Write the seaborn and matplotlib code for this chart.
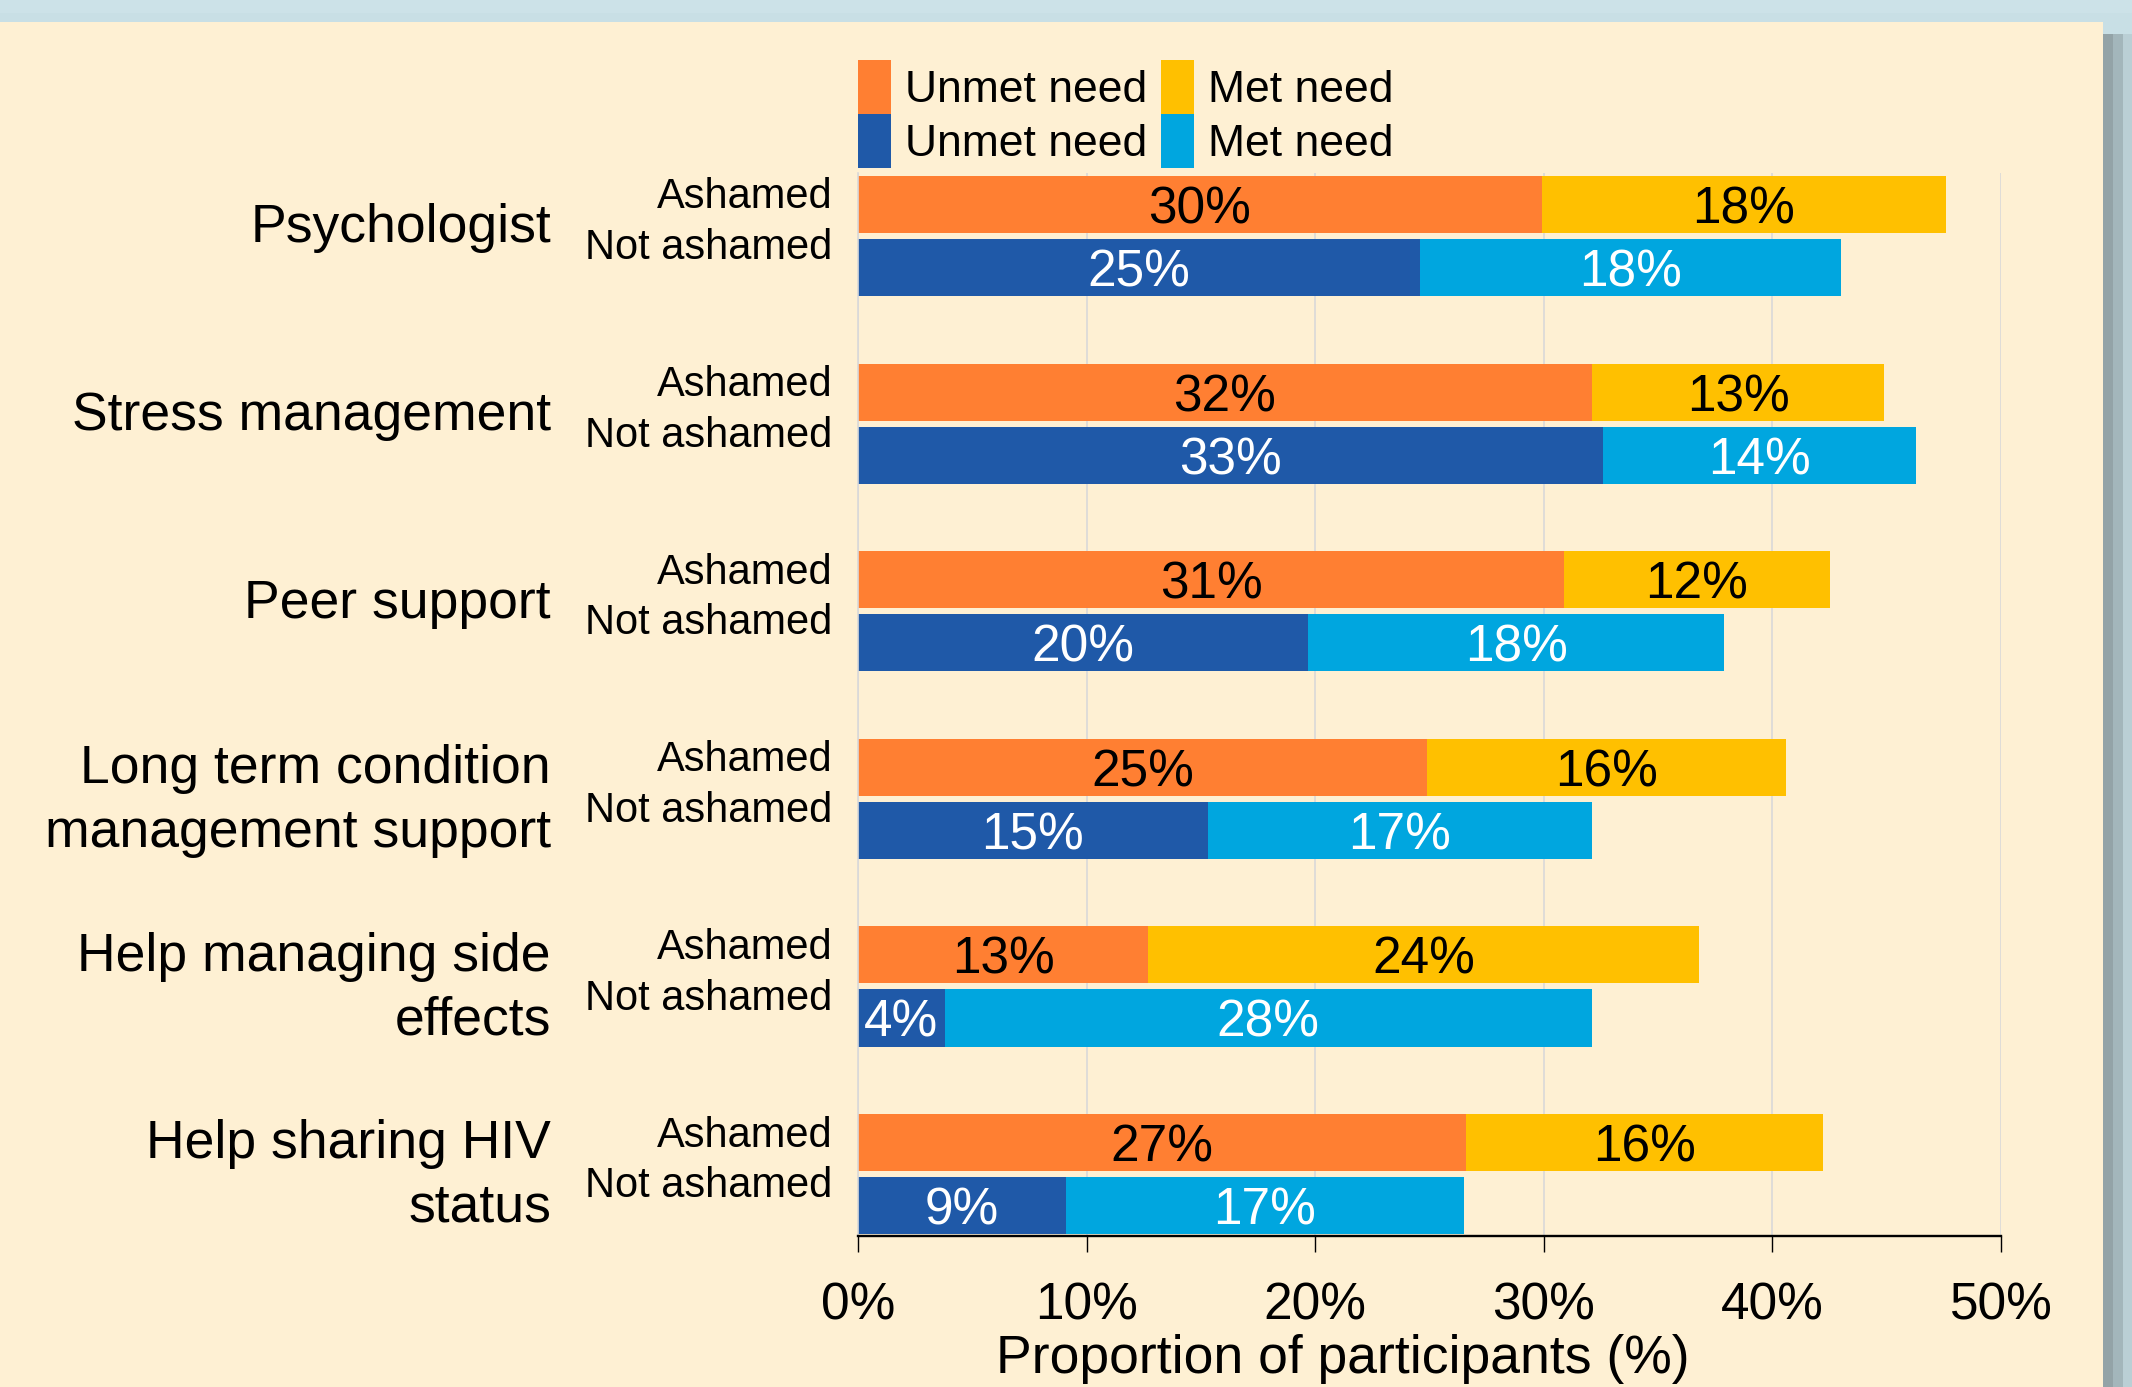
import matplotlib
matplotlib.use("Agg")
import matplotlib.pyplot as plt
import matplotlib.patches as mpatches
import matplotlib.transforms as mtransforms
import pandas as pd
import seaborn as sns

# Chart data (percent of participants)
services = [
    "Psychologist",
    "Stress management",
    "Peer support",
    "Long term condition\nmanagement support",
    "Help managing side\neffects",
    "Help sharing HIV\nstatus",
]
groups = ["Ashamed", "Not ashamed"]

unmet_ashamed = [29.9, 32.1, 30.9, 24.9, 12.7, 26.6]
met_ashamed = [17.7, 12.8, 11.6, 15.7, 24.1, 15.6]
unmet_not_ashamed = [24.6, 32.6, 19.7, 15.3, 3.8, 9.1]
met_not_ashamed = [18.4, 13.7, 18.2, 16.8, 28.3, 17.4]

x_ticks = [0, 10, 20, 30, 40, 50]
x_title = "Proportion of participants (%)"
legend_labels = ["Unmet need", "Met need"]

# Colours
CREAM = "#FEF0D3"
FRAME = "#C8DFE5"
pal_unmet = {"Ashamed": "#FF7F32", "Not ashamed": "#1F59A8"}
pal_met = {"Ashamed": "#FFC000", "Not ashamed": "#00A6DF"}
label_color = {"Ashamed": "black", "Not ashamed": "white"}

df = pd.DataFrame({
    "service": services * 2,
    "group": [groups[0]] * len(services) + [groups[1]] * len(services),
    "unmet": unmet_ashamed + unmet_not_ashamed,
    "met": met_ashamed + met_not_ashamed,
})
df["total"] = df["unmet"] + df["met"]

sns.set_theme(style="white")
plt.rcParams["font.family"] = ["Liberation Sans", "DejaVu Sans"]
plt.rcParams["text.color"] = "black"

W, H = 2132, 1387
fig = plt.figure(figsize=(W / 100, H / 100), dpi=100, facecolor=FRAME)

# cream panel with a soft shadow on the right, like the slide frame
fig.patches.append(mpatches.Rectangle((0, 0), 2103 / W, 1 - 22 / H, transform=fig.transFigure,
                                      facecolor=CREAM, edgecolor="none", zorder=-10))
fig.patches.append(mpatches.Rectangle((0, 1 - 13 / H), 1, 13 / H, transform=fig.transFigure,
                                      facecolor="#CCE2E8", edgecolor="none", zorder=-11))
for x0, x1, c in [(2103, 2113, "#93A3A7"), (2113, 2123, "#A3B6BB"), (2123, 2132, "#BACFD5")]:
    fig.patches.append(mpatches.Rectangle((x0 / W, 0), (x1 - x0) / W, 1 - 34 / H,
                                          transform=fig.transFigure, facecolor=c,
                                          edgecolor="none", zorder=-10))

ax = fig.add_axes([858 / W, 1 - 1236 / H, (2001 - 858) / W, (1236 - 173) / H])
ax.set_facecolor(CREAM)

bar_kws = dict(y="service", hue="group", order=services, hue_order=groups, orient="h",
               width=0.672, gap=0.095, saturation=1, errorbar=None, legend=False,
               edgecolor="none", linewidth=0, ax=ax)

# total bars first (met colour), unmet drawn on top of them
sns.barplot(data=df, x="total", palette=pal_met, **bar_kws)
n0 = len(ax.containers)
sns.barplot(data=df, x="unmet", palette=pal_unmet, **bar_kws)

for k, grp in enumerate(groups):
    sub = df[df["group"] == grp].set_index("service").loc[services]
    for bar, met in zip(ax.containers[n0 + k], sub["met"]):
        unmet = bar.get_width()
        yc = bar.get_y() + bar.get_height() / 2
        ax.text(unmet / 2, yc, f"{unmet:.0f}%", ha="center", va="center_baseline",
                fontsize=37, color=label_color[grp])
        ax.text(unmet + met / 2, yc, f"{met:.0f}%", ha="center", va="center_baseline",
                fontsize=37, color=label_color[grp])

ax.set_xlim(0, 50)
ax.set_ylim(len(services) - 1 + 0.33, -0.336)

# row labels on the left
trans = mtransforms.blended_transform_factory(ax.transAxes, ax.transData)
for i, name in enumerate(services):
    nlines = name.count("\n") + 1
    ax.text(-0.2686, i - 0.174 - (nlines - 1) * 0.118, name, transform=trans,
            ha="right", va="top", multialignment="right", fontsize=38.5,
            linespacing=1.35, color="black", clip_on=False)
    ax.text(-0.0227, i - 0.147, groups[0], transform=trans, ha="right",
            va="baseline", fontsize=30, color="black", clip_on=False)
    ax.text(-0.0227, i + 0.123, groups[1], transform=trans, ha="right",
            va="baseline", fontsize=30, color="black", clip_on=False)

ax.set_xticks(x_ticks)
ax.set_xticklabels([f"{t}%" for t in x_ticks])
ax.tick_params(axis="x", bottom=True, length=11.5, width=1, color="black",
               pad=21, labelsize=37, labelcolor="black")
ax.tick_params(axis="y", left=False, labelleft=False)
ax.set_ylabel("")
ax.set_xlabel(x_title, fontsize=38.5, color="black")
ax.xaxis.set_label_coords((1343 - 858) / (2001 - 858), -(1334 - 1236) / (1236 - 173))

ax.grid(axis="x", color="#D9D9D9", linewidth=1.2)
ax.grid(axis="y", visible=False)
ax.set_axisbelow(True)
for side in ["top", "right"]:
    ax.spines[side].set_visible(False)
ax.spines["left"].set_color("#D9D9D9")
ax.spines["left"].set_linewidth(1.2)
ax.spines["bottom"].set_color("black")
ax.spines["bottom"].set_linewidth(1.7)

handles = [
    mpatches.Patch(facecolor=pal_unmet["Ashamed"], linewidth=0),
    mpatches.Patch(facecolor=pal_unmet["Not ashamed"], linewidth=0),
    mpatches.Patch(facecolor=pal_met["Ashamed"], linewidth=0),
    mpatches.Patch(facecolor=pal_met["Not ashamed"], linewidth=0),
]
labels = [legend_labels[0]] * 2 + [legend_labels[1]] * 2
fig.legend(handles, labels, ncol=2, loc="upper left",
           bbox_to_anchor=(858 / W, 1 - 60 / H), frameon=False, fontsize=32,
           handlelength=0.74, handleheight=1.5, handletextpad=0.32,
           columnspacing=0.3, labelspacing=0, borderpad=0, borderaxespad=0)

fig.savefig("out.png", dpi=100, facecolor=fig.get_facecolor())
